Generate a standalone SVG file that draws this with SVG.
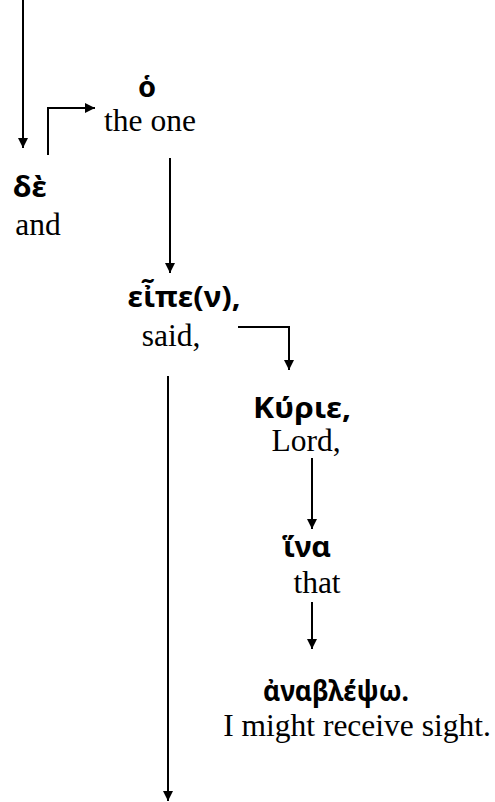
<svg xmlns="http://www.w3.org/2000/svg" width="495" height="802" viewBox="0 0 495 802">
<defs>
<marker id="ah" viewBox="0 0 10 10" refX="10" refY="5" markerWidth="10" markerHeight="10" markerUnits="userSpaceOnUse" orient="auto">
<path d="M0,0 L10,5 L0,10 z" fill="#000"/>
</marker>
</defs>
<style>
.gk{font-family:"Noto Sans","DejaVu Sans",sans-serif;font-weight:bold;font-size:29px;fill:#000;text-anchor:middle}
.en{font-family:"Liberation Serif","Times New Roman",serif;font-size:31.5px;fill:#000;text-anchor:middle}
.c{stroke:#000;stroke-width:2;fill:none;marker-end:url(#ah)}
</style>
<rect width="495" height="802" fill="#fff"/>
<g id="connectors">
<path class="c" d="M23,0 V148"/>
<path class="c" d="M48,155 V108 H95"/>
<path class="c" d="M170,158 V273"/>
<path class="c" d="M238,327 H289 V370"/>
<path class="c" d="M168,376 V801"/>
<path class="c" d="M312,458 V529"/>
<path class="c" d="M312,602 V649"/>
</g>
<g id="node-ho"><text class="gk" x="147" y="97">ὁ</text><text class="en" x="150" y="131">the one</text></g>
<g id="node-de"><text class="gk" x="30" y="197" textLength="34" lengthAdjust="spacingAndGlyphs">δὲ</text><text class="en" x="38" y="235">and</text></g>
<g id="node-eipen"><text class="gk" x="184" y="307" textLength="113" lengthAdjust="spacingAndGlyphs">εἶπε(ν),</text><text class="en" x="171" y="346">said,</text></g>
<g id="node-kyrie"><text class="gk" x="302" y="418" textLength="98" lengthAdjust="spacingAndGlyphs">Κύριε,</text><text class="en" x="306" y="451">Lord,</text></g>
<g id="node-hina"><text class="gk" x="307" y="557" textLength="48" lengthAdjust="spacingAndGlyphs">ἵνα</text><text class="en" x="317" y="593">that</text></g>
<g id="node-anablepso"><text class="gk" x="336" y="701" textLength="146" lengthAdjust="spacingAndGlyphs">ἀναβλέψω.</text><text class="en" x="357" y="736">I might receive sight.</text></g>
</svg>
